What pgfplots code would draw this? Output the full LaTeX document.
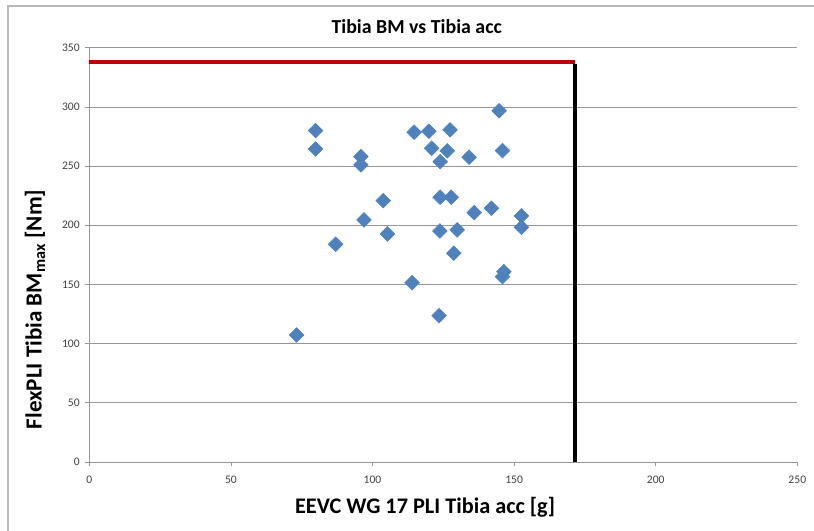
\documentclass[border=0pt]{standalone}
\usepackage{fontspec}
\setmainfont{Carlito}
\usepackage{pgfplots}
\pgfplotsset{compat=1.18}
\definecolor{ptblue}{RGB}{79,129,189}
\definecolor{limred}{RGB}{192,0,0}
\definecolor{gridgray}{RGB}{150,150,150}
\begin{document}
\begin{tikzpicture}[x=0.75pt,y=0.75pt]
\useasboundingbox (0,0) rectangle (814,531);
\draw[gray!55, line width=0.8pt] (8,525) rectangle (840,-30);
\begin{axis}[
  at={(66.975pt,51.75pt)}, anchor=south west,
  scale only axis,
  width=531pt, height=310.7pt,
  xmin=0, xmax=250, ymin=0, ymax=350,
  xtick={0,50,...,250}, ytick={0,50,...,350},
  axis x line*=bottom, axis y line*=left,
  axis line style={gridgray, line width=0.6pt},
  tick style={gridgray, line width=0.6pt},
  tick align=outside, major tick length=3pt,
  ymajorgrids, grid style={gridgray, line width=0.6pt},
  /pgf/number format/assume math mode=true,
  ticklabel style={font=\fontsize{8.7}{10}\selectfont, text=black!75},
  yticklabel style={inner sep=0pt, xshift=-4pt},
  xticklabel style={inner sep=0pt, yshift=-7pt},
  clip=false,
]
\addplot[only marks, mark=square*, mark size=3.9pt,
  mark options={rotate=45, fill=ptblue, draw=ptblue}] coordinates {
(79.9,280.0) (79.9,264.5) (95.9,258.0) (95.9,251.0) (114.7,278.6)
(119.9,279.5) (127.4,280.6) (144.7,296.7) (120.9,265.1) (126.4,262.9)
(123.9,253.8) (134.1,257.5) (145.9,263.1) (103.8,220.8) (123.9,223.7)
(127.8,223.7) (135.9,210.7) (142.0,214.4) (152.6,207.9) (97.0,204.5)
(87.0,184.0) (105.3,192.7) (123.8,195.2) (129.9,196.1) (152.6,198.3)
(128.7,176.4) (146.4,160.8) (145.9,156.6) (114.0,151.5) (123.5,123.6)
(73.2,107.3)
};
\addplot[limred, line width=3pt, line cap=butt] coordinates {(0,338) (171.5,338)};
\addplot[black, line width=3pt, line cap=butt] coordinates {(171.5,0) (171.5,336.5)};
\end{axis}
\node[anchor=base, font=\bfseries\fontsize{14.9}{17}\selectfont, inner sep=0pt] at (416.7,497.7) {Tibia BM vs Tibia acc};
\node[anchor=base, font=\bfseries\fontsize{16.7}{20}\selectfont, inner sep=0pt] at (425,17.7) {EEVC WG 17 PLI Tibia acc [g]};
\node[anchor=base, rotate=90, font=\bfseries\fontsize{17.3}{20}\selectfont, inner sep=0pt] at (41.7,221.5) {FlexPLI Tibia BM\textsubscript{max} [Nm]};
\end{tikzpicture}
\end{document}
